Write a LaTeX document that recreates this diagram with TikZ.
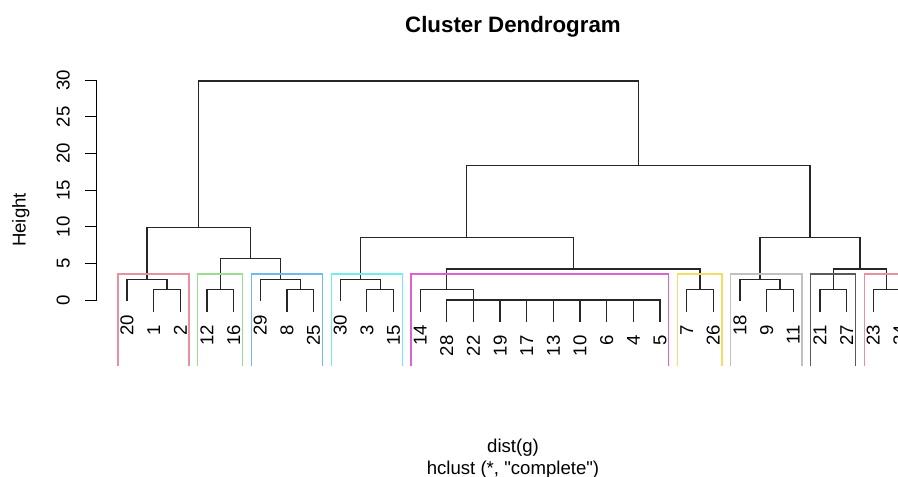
\documentclass[tikz,border=0pt]{standalone}
\usepackage{xcolor}
\usepackage{fontspec}
\setmainfont{Liberation Sans}
\newfontfamily\plainfont{Liberation Sans}
\usepackage{tikz}
\usetikzlibrary{positioning,calc}
\definecolor{boxRed}{HTML}{DF536B}
\definecolor{boxGreen}{HTML}{61D04F}
\definecolor{boxBlue}{HTML}{2297E6}
\definecolor{boxCyan}{HTML}{28E2E5}
\definecolor{boxMagenta}{HTML}{CD0BBC}
\definecolor{boxYellow}{HTML}{F5C710}
\definecolor{boxGray}{HTML}{9E9E9E}
\definecolor{boxBlack}{HTML}{000000}
\tikzset{
    link/.style={
        draw=black!85,
        line width=1.25pt
    },
    clusterbox/.style={
        line width=1.2pt
    },
    leaflabel/.style={
        yshift=-13.5pt,
        rotate=90,
        anchor=east,
        inner sep=0pt
    },
    ticklabel/.style={
        rotate=90,
        anchor=south,
        inner sep=0pt
    }
}

\begin{document}
\begin{tikzpicture}[x=1pt, y=-1pt, font=\fontsize{18.6}{22}\selectfont]
    \clip (0,0) rectangle (898,477);

    % titles
    \node (title) at (513,32) [anchor=base, font=\bfseries\fontsize{22.3}{24}\selectfont] {Cluster Dendrogram};
    \node (xlab) at (513,452.5) [anchor=base] {dist(g)};
    \node (sub) at (513,474) [anchor=base] {\plainfont hclust (*, "complete")};
    \node (ylab) at (25.5,220) [rotate=90, anchor=base] {Height};

    % height axis
    \coordinate (axtop) at (96.7,80);
    \coordinate (axbot) at (96.7,300);
    \draw [line width=0.9pt] (axbot) -- (axtop);
    \foreach \v in {0,5,...,30} {
        \coordinate (tick\v) at (96.7,{300-7.3333*\v});
        \draw [line width=0.9pt] (tick\v) -- ++(-11.7,0);
        \node (tl\v) [ticklabel] at ($(tick\v)+(-26.7,0)$) {\v};
    }

    \begin{scope}[xshift=100.35pt, yshift=-300pt, x=26.65pt, y=7.3333pt]
    % leaves: label / position / end of hanging line
    \foreach \lab/\i/\h in {20/1/-0.159, 1/2/-1.573, 2/3/-1.573, 12/4/-1.573, 16/5/-1.573,
        29/6/-0.159, 8/7/-1.573, 25/8/-1.573, 30/9/-0.159, 3/10/-1.573, 15/11/-1.573,
        14/12/-1.573, 28/13/-2.987, 22/14/-2.987, 19/15/-2.987, 17/16/-2.987, 13/17/-2.987,
        10/18/-2.987, 6/19/-2.987, 4/20/-2.987, 5/21/-2.987, 7/22/-1.573, 26/23/-1.573,
        18/24/-0.159, 9/25/-1.573, 11/26/-1.573, 21/27/-1.573, 27/28/-1.573,
        23/29/-1.573, 24/30/-1.573} {
        \coordinate (l\lab) at (\i,\h);
        \node (t\lab) [leaflabel] at (l\lab) {\lab};
    }

    % merges
    \coordinate (n1) at (2.5,1.414);
    \coordinate (n2) at (1.75,2.828);
    \coordinate (n3) at (4.5,1.414);
    \coordinate (n4) at (7.5,1.414);
    \coordinate (n5) at (6.75,2.828);
    \coordinate (n6) at (5.625,5.657);
    \coordinate (n7) at (3.6875,9.899);
    \coordinate (n8) at (10.5,1.414);
    \coordinate (n9) at (9.75,2.828);
    \coordinate (z) at (14,0);
    \coordinate (n10) at (13,1.414);
    \coordinate (n11) at (22.5,1.414);
    \coordinate (n12) at (17.75,4.243);
    \coordinate (n13) at (13.75,8.485);
    \coordinate (n14) at (25.5,1.414);
    \coordinate (n15) at (24.75,2.828);
    \coordinate (n16) at (27.5,1.414);
    \coordinate (n17) at (29.5,1.414);
    \coordinate (n18) at (28.5,4.243);
    \coordinate (n19) at (26.625,8.485);
    \coordinate (n20) at (20.1875,18.385);
    \coordinate (n21) at (11.9375,29.866);

    \draw [link] (l1) |- (n1) -| (l2);
    \draw [link] (l20) |- (n2) -| (n1);
    \draw [link] (l12) |- (n3) -| (l16);
    \draw [link] (l8) |- (n4) -| (l25);
    \draw [link] (l29) |- (n5) -| (n4);
    \draw [link] (n3) |- (n6) -| (n5);
    \draw [link] (n2) |- (n7) -| (n6);
    \draw [link] (l3) |- (n8) -| (l15);
    \draw [link] (l30) |- (n9) -| (n8);
    \draw [link] (l28) |- (z) -| (l5);
    \foreach \lab in {22,19,17,13,10,6,4}
        \draw [link] (l\lab) -- (l\lab |- z);
    \draw [link] (l14) |- (n10) -| (z);
    \draw [link] (l7) |- (n11) -| (l26);
    \draw [link] (n10) |- (n12) -| (n11);
    \draw [link] (n9) |- (n13) -| (n12);
    \draw [link] (l9) |- (n14) -| (l11);
    \draw [link] (l18) |- (n15) -| (n14);
    \draw [link] (l21) |- (n16) -| (l27);
    \draw [link] (l23) |- (n17) -| (l24);
    \draw [link] (n16) |- (n18) -| (n17);
    \draw [link] (n15) |- (n19) -| (n18);
    \draw [link] (n13) |- (n20) -| (n19);
    \draw [link] (n7) |- (n21) -| (n20);

    % cluster boxes
    \foreach \a/\b/\c in {1/3/boxRed, 4/5/boxGreen, 6/8/boxBlue, 9/11/boxCyan,
        12/21/boxMagenta, 22/23/boxYellow, 24/26/boxGray, 27/28/boxBlack, 29/30/boxRed}
        \draw [clusterbox, draw=\c!65] ({\a-0.34},-9) |- ({\b+0.33},3.536) -- ({\b+0.33},-9);
    \end{scope}
\end{tikzpicture}
\end{document}
